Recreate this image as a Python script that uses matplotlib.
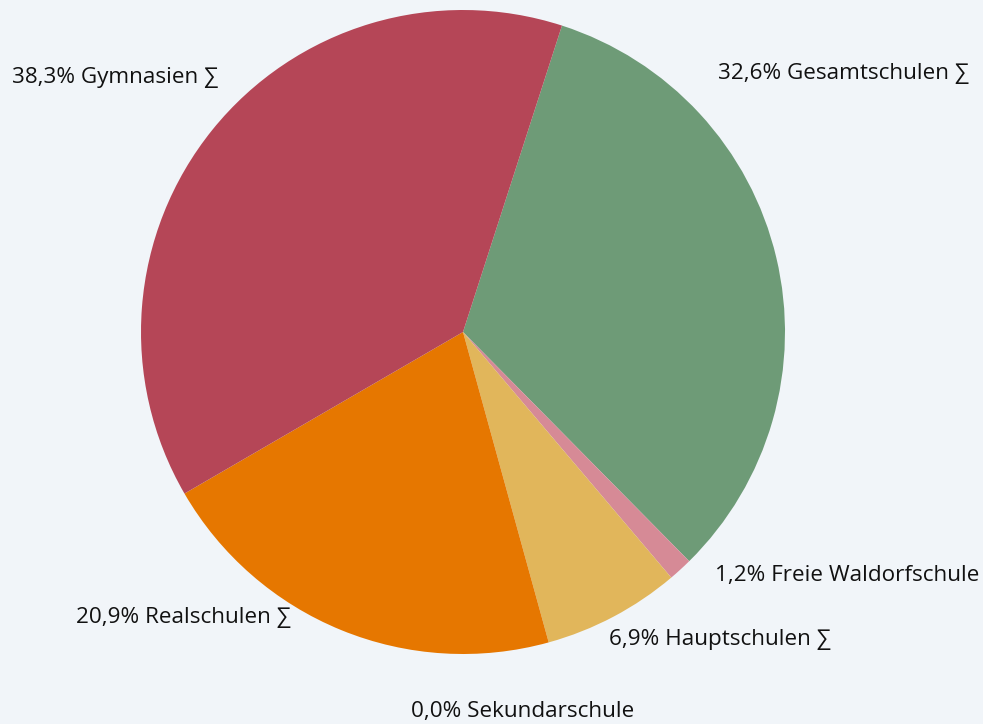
import matplotlib
matplotlib.use("Agg")
import matplotlib.pyplot as plt

labels = ["Gesamtschulen ∑", "Freie Waldorfschule", "Hauptschulen ∑",
          "Sekundarschule", "Realschulen ∑", "Gymnasien ∑"]
shares = [32.6, 1.2, 6.9, 0.0, 20.9, 38.3]
colors = ["#6e9b77", "#d68a96", "#e1b65b", "#8a8a8a", "#e67700", "#b54657"]

# label anchor points in pixels (left edge, vertical centre)
label_px = [(718, 74), (715, 576), (609, 639), (411, 711), (76, 618), (12, 78)]

W, H = 983, 724
bg = "#f1f5f9"

fig = plt.figure(figsize=(W / 100, H / 100), dpi=100, facecolor=bg)
cx, cy, r = 463, 332, 322
ax = fig.add_axes([(cx - r) / W, (H - cy - r) / H, 2 * r / W, 2 * r / H])
ax.set_facecolor(bg)

ax.pie(shares, colors=colors, startangle=90 - 17.9, counterclock=False,
       radius=1, wedgeprops=dict(linewidth=0))
ax.set_xlim(-1, 1)
ax.set_ylim(-1, 1)
ax.set_aspect("equal")
ax.axis("off")

for name, val, (px, py) in zip(labels, shares, label_px):
    txt = f"{val:.1f}".replace(".", ",") + "% " + name
    fig.text(px / W, 1 - py / H, txt, ha="left", va="center", fontsize=16.2,
             family=["Open Sans", "DejaVu Sans"], color="#111111")

fig.savefig("out.png", dpi=100, facecolor=bg)
